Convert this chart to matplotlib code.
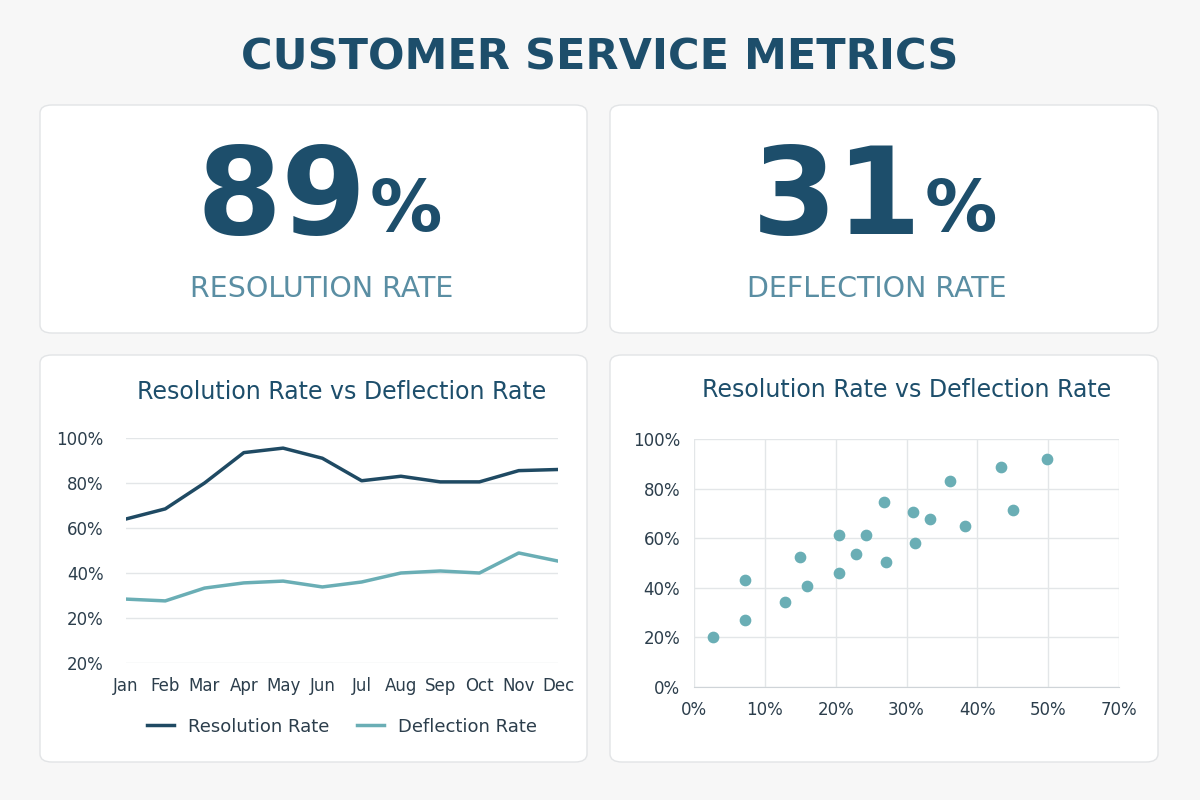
import matplotlib
matplotlib.use("Agg")
import matplotlib.pyplot as plt
from matplotlib.patches import FancyBboxPatch
from matplotlib.ticker import FixedLocator, FixedFormatter

months = ["Jan","Feb","Mar","Apr","May","Jun","Jul","Aug","Sep","Oct","Nov","Dec"]
resolution = [64, 68.5, 80, 93.5, 95.5, 91, 81, 83, 80.5, 80.5, 85.5, 86]
deflection = [28.4, 27.6, 33.3, 35.6, 36.4, 33.8, 36, 40, 40.9, 40, 48.9, 45.3]
line_yticks = [0, 20, 40, 60, 80, 100]
line_ylabels = ["20%", "20%", "40%", "60%", "80%", "100%"]
sc_x = [2.7, 7.2, 7.2, 12.9, 14.9, 16.0, 20.5, 20.5, 22.9, 24.3, 26.8, 27.1, 30.9, 31.2, 33.3, 36.2, 38.3, 43.3, 45.1, 49.9]
sc_y = [20.2, 43.1, 27.0, 34.3, 52.4, 40.7, 61.3, 46.0, 53.6, 61.3, 74.6, 50.4, 70.6, 58.1, 67.7, 83.1, 65.0, 88.7, 71.4, 91.9]
sc_xticks = [0, 10, 20, 30, 40, 50, 60]
sc_xlabels = ["0%", "10%", "20%", "30%", "40%", "50%", "70%"]
sc_yticks = [0, 20, 40, 60, 80, 100]

DARK = "#1f4a63"
TEAL = "#6aaeb5"
GRID = "#e3e6e8"
TXT = "#2c3e4c"
plt.rcParams['font.family'] = ['DejaVu Sans']

W, H = 1200, 800
fig = plt.figure(figsize=(12, 8), dpi=100)
fig.patch.set_facecolor("#f7f7f7")

def card(x0, y0, x1, y1):
    p = FancyBboxPatch((x0/W, 1-y1/H), (x1-x0)/W, (y1-y0)/H,
                       boxstyle="round,pad=0,rounding_size=0.01",
                       transform=fig.transFigure, facecolor="white",
                       edgecolor="#e2e4e6", linewidth=1, zorder=-5)
    fig.patches.append(p)

card(40, 105, 587, 333)
card(610, 105, 1158, 333)
card(40, 355, 587, 762)
card(610, 355, 1158, 762)

fig.text(0.5, 1-58/H, "CUSTOMER SERVICE METRICS", ha="center", va="center",
         fontsize=31, fontweight="bold", color="#1d4e6b")

for cx, num, lab in [(322, "89", "RESOLUTION RATE"), (877, "31", "DEFLECTION RATE")]:
    fig.text((cx+45)/W, 1-200/H, num, ha="right", va="center", fontsize=88,
             fontweight="bold", color="#1d4e6b")
    fig.text((cx+48)/W, 1-212/H, "%", ha="left", va="center", fontsize=52,
             fontweight="bold", color="#1d4e6b")
    fig.text(cx/W, 1-289/H, lab, ha="center", va="center", fontsize=20.5,
             color="#5a8ea3")

# line chart
ax = fig.add_axes([126/W, 1-663/H, (558-126)/W, (663-438)/H])
x = list(range(len(months)))
ax.plot(x, resolution, color=DARK, lw=2.5, label="Resolution Rate")
ax.plot(x, deflection, color=TEAL, lw=2.5, label="Deflection Rate")
ax.set_xlim(0, 11)
ax.set_ylim(0, 100)
ax.yaxis.set_major_locator(FixedLocator(line_yticks))
ax.yaxis.set_major_formatter(FixedFormatter(line_ylabels))
ax.set_xticks(x)
ax.set_xticklabels(months)
ax.grid(axis="y", color=GRID, lw=1)
for s in ax.spines.values():
    s.set_visible(False)
ax.tick_params(length=0, labelsize=12, colors=TXT, pad=10)
ax.tick_params(axis="y", pad=16)
ax.set_title("Resolution Rate vs Deflection Rate", fontsize=17, color="#1d4e6b", pad=28)
ax.legend(loc="upper center", bbox_to_anchor=(0.5, -0.17), ncol=2, frameon=False,
          fontsize=13, handlelength=1.5, columnspacing=1.5, labelcolor=TXT)

# scatter
ax2 = fig.add_axes([694/W, 1-687/H, (1119-694)/W, (687-439)/H])
ax2.scatter(sc_x, sc_y, s=55, color=TEAL, zorder=3)
ax2.set_xlim(0, 60)
ax2.set_ylim(0, 100)
ax2.set_xticks(sc_xticks)
ax2.set_xticklabels(sc_xlabels)
ax2.set_yticks(sc_yticks)
ax2.set_yticklabels([f"{v}%" for v in sc_yticks])
ax2.grid(color=GRID, lw=1)
for s in ax2.spines.values():
    s.set_visible(False)
ax2.spines["bottom"].set_visible(True)
ax2.spines["bottom"].set_color("#cfd4d8")
ax2.tick_params(length=0, labelsize=12, colors=TXT, pad=10)
ax2.set_title("Resolution Rate vs Deflection Rate", fontsize=17, color="#1d4e6b", pad=30)

fig.savefig("out.png", dpi=100, facecolor=fig.get_facecolor())
